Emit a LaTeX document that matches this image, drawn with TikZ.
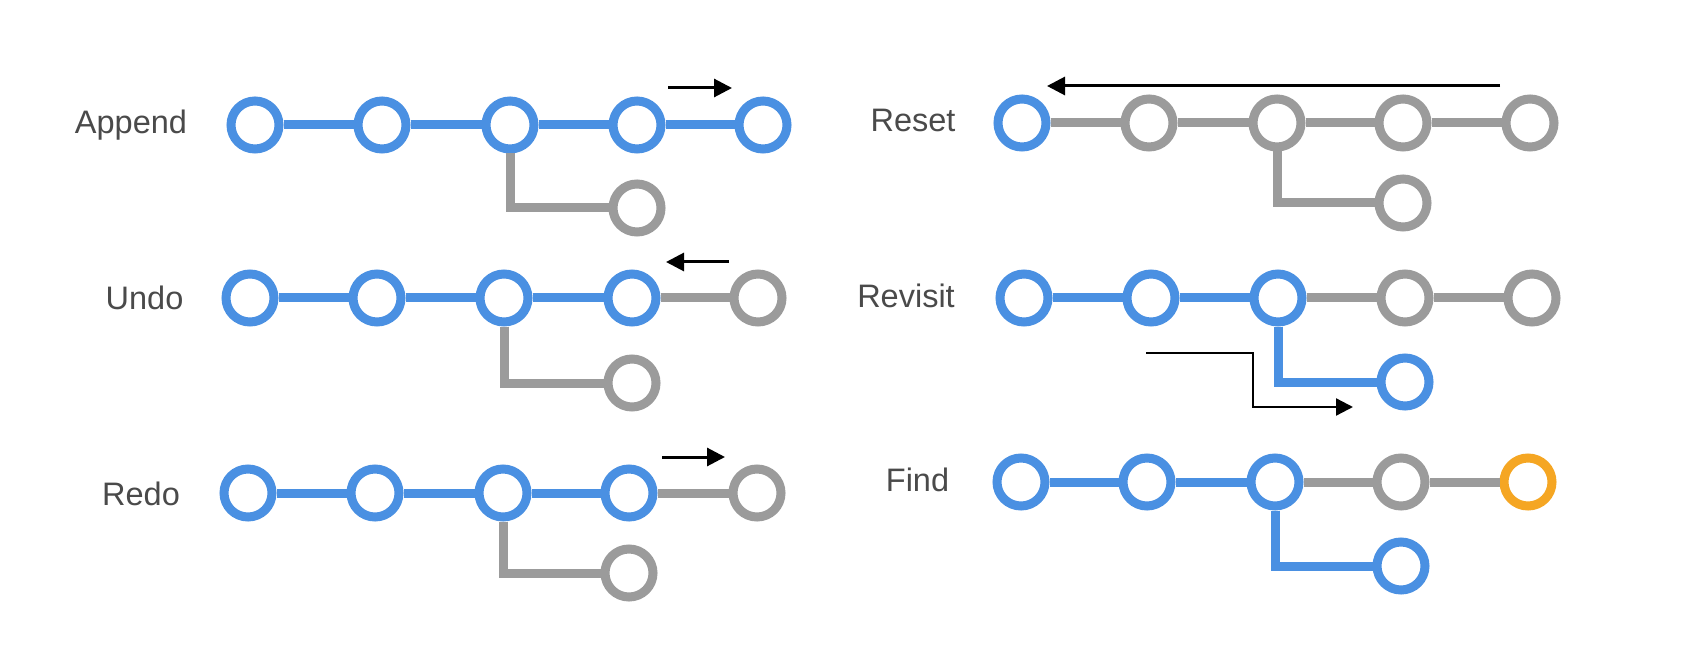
\documentclass[tikz,border=0pt]{standalone}
\usepackage{fontspec}
\setmainfont{Liberation Sans}
\usetikzlibrary{arrows.meta}
\definecolor{cblue}{HTML}{4A90E2}
\definecolor{cgray}{HTML}{9B9B9B}
\definecolor{corange}{HTML}{F5A623}
\definecolor{ctext}{HTML}{4A4A4A}
\tikzset{
  ring/.style={circle, line width=9pt, fill=white, minimum size=48pt, inner sep=0pt},
  bnode/.style={ring, draw=cblue},
  gnode/.style={ring, draw=cgray},
  onode/.style={ring, draw=corange},
  blink/.style={draw=cblue, line width=9pt},
  glink/.style={draw=cgray, line width=9pt},
  arr/.style={draw=black, line width=3pt, -{Triangle[length=18pt,width=18pt]}},
  arrthin/.style={draw=black, line width=2.3pt, -{Triangle[length=17pt,width=17pt]}},
  lbl/.style={font=\fontsize{32.5}{38}\selectfont, text=ctext, anchor=base, inner sep=0pt}
}
\begin{document}
\begin{tikzpicture}[x=1pt,y=-1pt]
\useasboundingbox[fill=white] (0,0) rectangle (1689,668);

% ---------- Append ----------
\node[lbl] (tA) at (131,134) {Append};
\node[bnode] (a1) at (255,125) {};
\node[bnode] (a2) at (382,125) {};
\node[bnode] (a3) at (510,125) {};
\node[bnode] (a4) at (637,125) {};
\node[bnode] (a5) at (763,125) {};
\node[gnode] (ab) at (637,208) {};
\draw[blink] (a1) -- (a2);
\draw[blink] (a2) -- (a3);
\draw[blink] (a3) -- (a4);
\draw[blink] (a4) -- (a5);
\draw[glink] (a3) |- (ab);
\coordinate (aS) at (668,88);
\coordinate (aE) at (732,88);
\draw[arr] (aS) -- (aE);

% ---------- Undo ----------
\node[lbl] (tU) at (144.5,309) {Undo};
\node[bnode] (u1) at (250,298) {};
\node[bnode] (u2) at (377,298) {};
\node[bnode] (u3) at (504,298) {};
\node[bnode] (u4) at (632,298) {};
\node[gnode] (u5) at (758,298) {};
\node[gnode] (ub) at (632,383) {};
\draw[blink] (u1) -- (u2);
\draw[blink] (u2) -- (u3);
\draw[blink] (u3) -- (u4);
\draw[glink] (u4) -- (u5);
\draw[glink] (u3) |- (ub);
\coordinate (uS) at (729,262);
\coordinate (uE) at (666,262);
\draw[arr] (uS) -- (uE);

% ---------- Redo ----------
\node[lbl] (tR) at (141,505) {Redo};
\node[bnode] (r1) at (248,493) {};
\node[bnode] (r2) at (375,493) {};
\node[bnode] (r3) at (503,493) {};
\node[bnode] (r4) at (629,493) {};
\node[gnode] (r5) at (757,493) {};
\node[gnode] (rb) at (629,573) {};
\draw[blink] (r1) -- (r2);
\draw[blink] (r2) -- (r3);
\draw[blink] (r3) -- (r4);
\draw[glink] (r4) -- (r5);
\draw[glink] (r3) |- (rb);
\coordinate (rS) at (662,457);
\coordinate (rE) at (725,457);
\draw[arr] (rS) -- (rE);

% ---------- Reset ----------
\node[lbl] (tS) at (913,132) {Reset};
\node[bnode] (s1) at (1022,123) {};
\node[gnode] (s2) at (1149,123) {};
\node[gnode] (s3) at (1277,123) {};
\node[gnode] (s4) at (1403,123) {};
\node[gnode] (s5) at (1530,123) {};
\node[gnode] (sb) at (1403,203) {};
\draw[glink] (s1) -- (s2);
\draw[glink] (s2) -- (s3);
\draw[glink] (s3) -- (s4);
\draw[glink] (s4) -- (s5);
\draw[glink] (s3) |- (sb);
\coordinate (sS) at (1500,86);
\coordinate (sE) at (1047,86);
\draw[arr] (sS) -- (sE);

% ---------- Revisit ----------
\node[lbl] (tV) at (906,308) {Revisit};
\node[bnode] (v1) at (1024,298) {};
\node[bnode] (v2) at (1151,298) {};
\node[bnode] (v3) at (1278,298) {};
\node[gnode] (v4) at (1405,298) {};
\node[gnode] (v5) at (1532,298) {};
\node[bnode] (vb) at (1405,382) {};
\draw[blink] (v1) -- (v2);
\draw[blink] (v2) -- (v3);
\draw[glink] (v3) -- (v4);
\draw[glink] (v4) -- (v5);
\draw[blink] (v3) |- (vb);
\coordinate (vS) at (1146,353);
\coordinate (vK) at (1253,407);
\coordinate (vE) at (1353,407);
\draw[arrthin] (vS) -| (vK) -- (vE);

% ---------- Find ----------
\node[lbl] (tF) at (917.5,491) {Find};
\node[bnode] (f1) at (1021,482) {};
\node[bnode] (f2) at (1147,482) {};
\node[bnode] (f3) at (1275,482) {};
\node[gnode] (f4) at (1401,482) {};
\node[onode] (f5) at (1528,482) {};
\node[bnode] (fb) at (1401,566) {};
\draw[blink] (f1) -- (f2);
\draw[blink] (f2) -- (f3);
\draw[glink] (f3) -- (f4);
\draw[glink] (f4) -- (f5);
\draw[blink] (f3) |- (fb);
\end{tikzpicture}
\end{document}
